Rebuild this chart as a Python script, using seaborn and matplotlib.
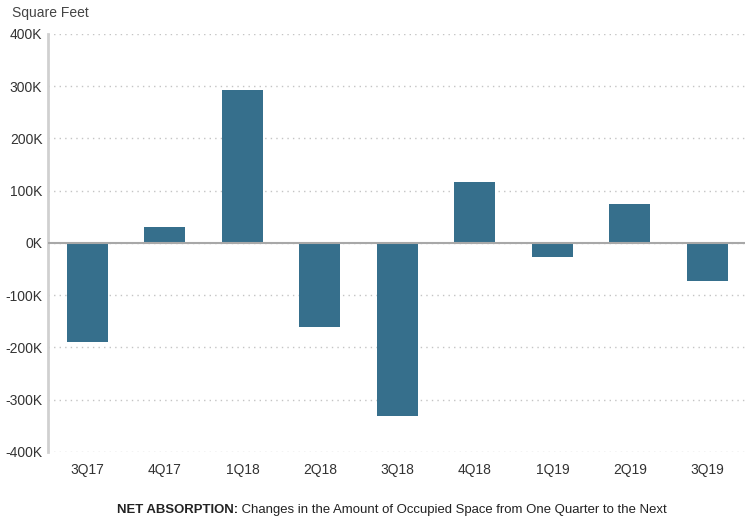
import matplotlib
matplotlib.use("Agg")
import matplotlib.pyplot as plt
import seaborn as sns
import pandas as pd
from matplotlib.ticker import FuncFormatter, MultipleLocator

quarters = ["3Q17", "4Q17", "1Q18", "2Q18", "3Q18", "4Q18", "1Q19", "2Q19", "3Q19"]
net_absorption = [-190000, 30000, 293000, -160000, -332000, 117000, -26000, 75000, -72000]

sns.set_theme(style="white")
plt.rcParams["font.family"] = ["Liberation Sans", "DejaVu Sans"]

df = pd.DataFrame({"quarter": quarters, "sf": net_absorption})

fig = plt.figure(figsize=(7.49, 5.23), dpi=100)
ax = fig.add_axes([0.064, 0.136, 0.931, 0.799])

sns.barplot(data=df, x="quarter", y="sf", color="#366f8c", saturation=1,
            width=0.53, linewidth=0, ax=ax, zorder=3)

ax.set_xlim(-0.51, 8.49)
ax.set_ylim(-400000, 400000)
ax.yaxis.set_major_locator(MultipleLocator(100000))
ax.yaxis.set_major_formatter(FuncFormatter(lambda v, p: f"{int(round(v / 1000))}K"))

ax.grid(axis="y", color="#c4c4c4", linestyle=(0, (1, 3)), linewidth=1.0, zorder=0)
ax.axhline(0, color="#a8a8a8", linewidth=1.5, zorder=4)

for side in ["top", "right", "bottom"]:
    ax.spines[side].set_visible(False)
ax.spines["left"].set_color("#d0d0d0")
ax.spines["left"].set_linewidth(2)

ax.set_xlabel("")
ax.set_ylabel("")
ax.tick_params(axis="both", length=0, labelsize=10, labelcolor="#333333")
ax.tick_params(axis="y", pad=4)
ax.tick_params(axis="x", pad=8)

fig.text(0.016, 0.975, "Square Feet", fontsize=10, color="#444444", va="center", ha="left")

# caption: bold lead-in followed by regular text, sized to a fixed width
fig.canvas.draw()
renderer = fig.canvas.get_renderer()
cap_y = 1 - 510 / 523
t1 = fig.text(0, cap_y, "NET ABSORPTION:", fontsize=10.5, fontweight="bold",
              color="#222222", va="center", ha="left")
t2 = fig.text(0, cap_y, " Changes in the Amount of Occupied Space from One Quarter to the Next",
              fontsize=10.5, color="#222222", va="center", ha="left")
total = t1.get_window_extent(renderer).width + t2.get_window_extent(renderer).width
size = 10.5 * min(1.0, 551 / total)
t1.set_fontsize(size)
t2.set_fontsize(size)
w1 = t1.get_window_extent(renderer).width
w2 = t2.get_window_extent(renderer).width
x0 = (392 - (w1 + w2) / 2) / 749
t1.set_x(x0)
t2.set_x(x0 + w1 / 749)

fig.savefig("out.png", dpi=100)
